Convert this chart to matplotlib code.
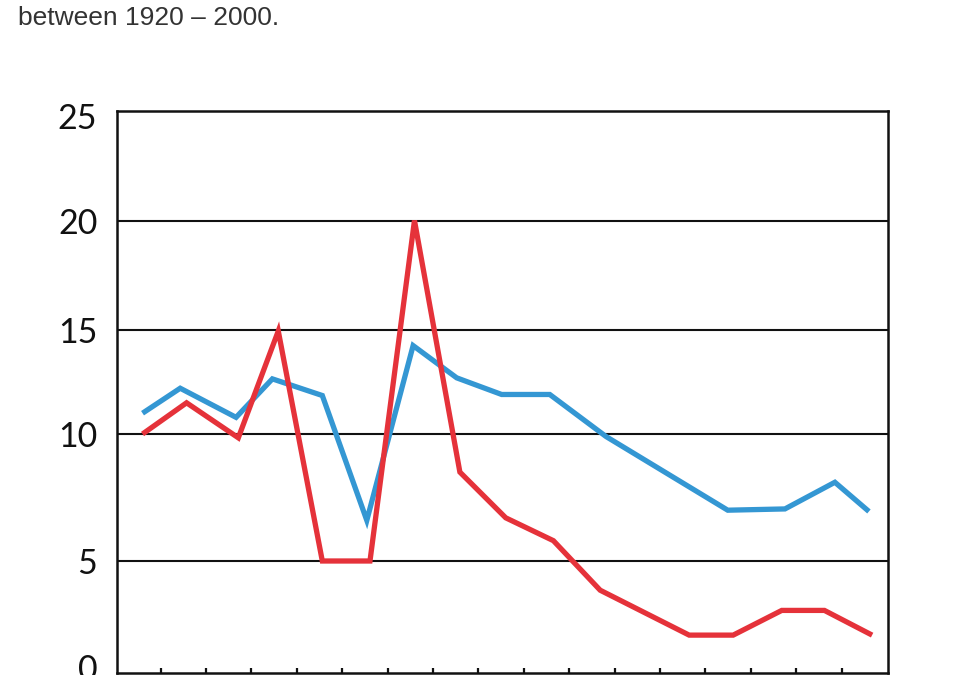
import numpy as np
import matplotlib.pyplot as plt
import matplotlib.transforms as mtransforms

# data (x in tick units, ticks at 1..16)
blue_x = [0.6, 1.43, 2.66, 3.46, 4.56, 5.54, 6.56, 7.52, 8.51, 9.57, 10.81, 13.49, 14.75, 15.85, 16.6]
blue_y = [11.0, 12.2, 10.8, 12.65, 11.85, 6.6, 14.25, 12.7, 11.9, 11.9, 9.9, 7.0, 7.05, 8.1, 6.95]

red_x = [0.6, 1.57, 2.71, 3.59, 4.56, 5.61, 6.59, 7.59, 8.6, 9.65, 10.68, 12.64, 13.61, 14.68, 15.62, 16.67]
red_y = [10.0, 11.5, 9.85, 14.95, 5.0, 5.0, 20.0, 8.5, 6.7, 5.8, 3.7, 1.7, 1.7, 2.8, 2.8, 1.7]

y_ticks = [0, 5, 10, 15, 20, 25]
x_ticks = list(range(1, 17))
caption = "between 1920 \u2013 2000."

# the original axis is drawn with uneven spacing between the gridlines
y_pos = [0, 112.3, 239.3, 343.3, 452.8, 562.6]

def fwd(v):
    return np.interp(v, y_ticks, y_pos)

def inv(p):
    return np.interp(p, y_pos, y_ticks)

fig = plt.figure(figsize=(9.55, 6.75), dpi=100)
ax = fig.add_axes([116.7 / 955, 1.7 / 675, (888 - 116.7) / 955, (673.3 - 110.7) / 675])

ax.set_yscale('function', functions=(fwd, inv))
ax.set_ylim(0, 25)
ax.set_xlim(0.031, 17.02)

for v in y_ticks[1:-1]:
    ax.axhline(v, color='#111111', lw=1.5, zorder=1)

ax.plot(blue_x, blue_y, color='#3497d3', lw=3.8, solid_joinstyle='miter',
        solid_capstyle='butt', zorder=3)
ax.plot(red_x, red_y, color='#e5323a', lw=3.8, solid_joinstyle='miter',
        solid_capstyle='butt', zorder=4)

ax.set_yticks(y_ticks)
ax.set_yticklabels([str(t) for t in y_ticks], fontfamily='Lato', fontsize=24.5,
                   color='#111111')
ax.tick_params(axis='y', length=0, pad=14)
# top and bottom labels sit a little inside the frame in the original
for lab, dy in zip(ax.get_yticklabels(), [6, 0, 0, 0, 0, -5]):
    if dy:
        lab.set_transform(lab.get_transform() +
                          mtransforms.ScaledTranslation(0, dy / 100, fig.dpi_scale_trans))
ax.set_xticks(x_ticks)
ax.set_xticklabels([])
ax.tick_params(axis='x', direction='in', length=3.5, width=1.6, color='#111111')

for s in ax.spines.values():
    s.set_linewidth(1.8)
    s.set_color('#111111')

fig.text(18 / 955, 1 - 18 / 675, caption, fontfamily='Liberation Sans', fontsize=19,
         color='#333333', va='center', ha='left')

fig.savefig('out.png', dpi=100)
